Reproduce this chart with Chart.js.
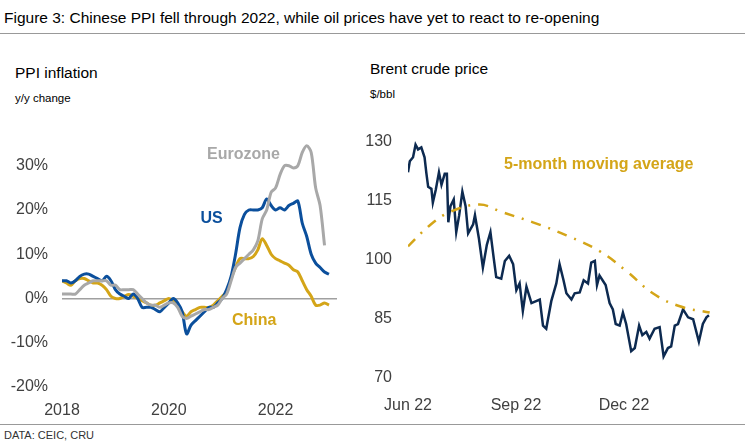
<!DOCTYPE html>
<html><head><meta charset="utf-8">
<script src="https://cdn.jsdelivr.net/npm/chart.js@4"></script>
<style>
body{margin:0;width:745px;height:445px;background:#fff;font-family:"Liberation Sans",Arial,sans-serif;position:relative;overflow:hidden}
.t{position:absolute;color:#000;white-space:nowrap}
canvas{position:absolute}
</style></head><body>
<div class="t" style="left:4px;top:9px;font-size:15.5px">Figure 3: Chinese PPI fell through 2022, while oil prices have yet to react to re-opening</div>
<div style="position:absolute;left:0;top:33px;width:745px;height:1px;background:#999"></div>
<div class="t" style="left:15px;top:64px;font-size:15.5px">PPI inflation</div>
<div class="t" style="left:15px;top:92px;font-size:11.5px">y/y change</div>
<div class="t" style="left:370px;top:60px;font-size:15.5px">Brent crude price</div>
<div class="t" style="left:370px;top:88px;font-size:11.5px">$/bbl</div>
<div style="position:absolute;left:0;top:424px;width:745px;height:1px;background:#999"></div>
<div class="t" style="left:4px;top:429px;font-size:11px;color:#333">DATA: CEIC, CRU</div>
<div style="position:absolute;left:0;top:120px;width:345px;height:300px"><canvas id="c1"></canvas></div>
<div style="position:absolute;left:360px;top:120px;width:385px;height:300px"><canvas id="c2"></canvas></div>
<script>
// Left chart: monthly y/y PPI, Jan 2018 onwards
const ppiStartYear = 2018;
const usPPI = [4,4,3.5,4,5,5.5,5.5,5,4.5,4,5,4, 2,1,0.5,0,1,0,-2,-2,-2,-2.5,-3,-2, -1,0,-1,-3,-8,-6,-5,-4,-3,-2,-2,-1, 0,2,5,10,16,19,20,20,20,20.5,22.5,21, 20,20.5,20,21,21.5,22,17,14,10,8,7,6, 5.5];
const euPPI = [1,1,1,1,2,3,3.5,4,4,4,4,3, 3,2,2,2,2,1,0,-1,-1.5,-1.5,-2,-1.5, -1,-1,-2,-4,-4.5,-4,-3.5,-3,-2.5,-2.5,-2,-1.5, 0,1,4,7,8,9,10,11,13,18,20,24, 25,28,30,30,29.5,30,33,34.5,33,25,21,12];
const cnPPI = [4,3.5,3,4,4.5,4.5,4,3.5,3.5,3,2,0.5, 0,0,0.5,0.9,0.5,0,-0.5,-1,-1.5,-1.5,-1,-0.5, 0,-0.5,-1.5,-3,-4,-3,-2.5,-2,-2,-2,-1.5,-0.5, 0.5,1.5,4.5,7,9,9,9,9.5,11,13.5,12,10, 9,8.5,8,7.5,6.5,6,4,2,0.5,-1.5,-1.5,-1, -1.5];
const ppiYTicks = [-20,-10,0,10,20,30];
const ppiXTicks = [2018,2020,2022];
// Right chart: Brent, x = months since 1 Jun 2022
const brentMonths = [0,.05,.14,.21,.28,.37,.46,.51,.56,.65,.69,.77,.86,.93,1.02,1.08,1.12,1.18,1.27,1.34,1.42,1.51,1.6,1.67,1.81,1.86,1.97,2.08,2.19,2.29,2.38,2.45,2.59,2.69,2.81,2.92,3.01,3.1,3.19,3.29,3.43,3.66,3.75,3.84,3.98,4.12,4.21,4.32,4.4,4.54,4.63,4.77,4.88,5,5.09,5.19,5.25,5.32,5.49,5.6,5.69,5.77,5.88,5.97,6.06,6.2,6.3,6.42,6.51,6.62,6.71,6.85,6.99,7.1,7.22,7.31,7.41,7.5,7.64,7.78,7.92,8.08,8.19,8.29,8.36];
const brentPrice = [122.2,125,126,129.2,128,128.5,126,122,118.5,118,114.5,117.7,122.2,119,121.8,121.8,109.5,113.6,115.3,107,111.2,117.3,113.6,106.7,109,111.3,105.4,98,103.8,107,100.5,95.6,95.2,99.7,101,98.9,92.3,94,87,93.2,89,89.9,83.3,82.5,89.5,94,98.9,94.8,91.5,89.9,91.5,91.7,94.8,94,99.3,99.7,93.6,96,93.6,89,87.4,83.7,83.3,86.6,83.7,76.8,77.6,83.3,80.9,81.7,80,82.5,82.9,75.5,77.6,78,83.3,83.7,87.4,85.4,84.9,79.2,83.7,85.4,85.9];
const maMonths = [0,.6,1.16,1.99,2.64,3.47,4.4,5.32,6.06,6.8,7.55,8.38];
const maPrice = [103.4,108.7,112.1,114,112,109.5,106.2,102.2,97.2,91.5,88.2,86.6];
const brentYTicks = [70,85,100,115,130];
const brentXTicks = [0,3,6];
const brentXLabels = ['Jun 22','Sep 22','Dec 22'];

const F = "'Liberation Sans', Arial, sans-serif";
const tickFont = {family:F,size:16};
const tickColor = '#404040';
const gold = '#D4A518', blue = '#0B4F9C', grey = '#A8A8A8', navy = '#0D2A50';

const labelPlugin = {
  id:'labels',
  afterDatasetsDraw(chart, args, opts){
    const ctx = chart.ctx, xs = chart.scales.x, ys = chart.scales.y;
    (opts.items||[]).forEach(it=>{
      ctx.save();
      ctx.font = 'bold 16px '+F;
      ctx.fillStyle = it.color; ctx.textAlign='center'; ctx.textBaseline='middle';
      ctx.fillText(it.text, xs.getPixelForValue(it.x), ys.getPixelForValue(it.y));
      ctx.restore();
    });
  }
};
const ser = (xs, ys) => ys.map((v,i)=>({x:xs[i], y:v}));
const ppiX = arr => arr.map((v,i)=>({x:ppiStartYear + i/12, y:v}));

new Chart(document.getElementById('c1'), {
  type:'line',
  data:{datasets:[
    {data:ppiX(euPPI), borderColor:grey, borderWidth:3, pointRadius:0, tension:0.3},
    {data:ppiX(usPPI), borderColor:blue, borderWidth:3, pointRadius:0, tension:0.3},
    {data:ppiX(cnPPI), borderColor:gold, borderWidth:3, pointRadius:0, tension:0.3}
  ]},
  options:{
    responsive:true, maintainAspectRatio:false, animation:false,
    layout:{padding:{top:8,right:8,left:0,bottom:0}},
    plugins:{legend:{display:false},tooltip:{enabled:false},
      labels:{items:[{text:'Eurozone',x:2021.4,y:32.5,color:grey},{text:'US',x:2020.8,y:18,color:blue},{text:'China',x:2021.6,y:-5,color:gold}]}},
    scales:{
      x:{type:'linear',min:2018,max:2023.15,
        afterBuildTicks:s=>{s.ticks=ppiXTicks.map(v=>({value:v}));},
        afterFit:s=>{s.height=33;},
        grid:{display:false},border:{display:false},
        ticks:{font:tickFont,color:tickColor,padding:6,maxRotation:0,callback:v=>String(v)}},
      y:{min:-20,max:35,
        afterBuildTicks:s=>{s.ticks=ppiYTicks.map(v=>({value:v}));},
        afterFit:s=>{s.width=62;},
        border:{display:false},
        grid:{drawTicks:false,lineWidth:c=>c.tick&&c.tick.value===0?1.5:0,color:'#A0A0A0'},
        ticks:{font:tickFont,color:tickColor,padding:14,callback:v=>v+'%'}}
    }
  },
  plugins:[labelPlugin]
});

new Chart(document.getElementById('c2'), {
  type:'line',
  data:{datasets:[
    {data:ser(maMonths,maPrice), borderColor:gold, borderWidth:2.5, pointRadius:0, tension:0.4, borderDash:[10,8,2,8]},
    {data:ser(brentMonths,brentPrice), borderColor:navy, borderWidth:2.5, pointRadius:0, tension:0}
  ]},
  options:{
    responsive:true, maintainAspectRatio:false, animation:false,
    layout:{padding:{top:1,right:31,left:0,bottom:0}},
    plugins:{legend:{display:false},tooltip:{enabled:false},
      labels:{items:[{text:'5-month moving average',x:5.3,y:124.2,color:gold}]}},
    scales:{
      x:{type:'linear',min:0,max:8.5,
        afterBuildTicks:s=>{s.ticks=brentXTicks.map(v=>({value:v}));},
        afterFit:s=>{s.height=42;},
        grid:{display:false},border:{display:false},
        ticks:{font:tickFont,color:tickColor,padding:10,maxRotation:0,callback:v=>brentXLabels[brentXTicks.indexOf(v)]}},
      y:{min:70,max:131,
        afterBuildTicks:s=>{s.ticks=brentYTicks.map(v=>({value:v}));},
        afterFit:s=>{s.width=48;},
        border:{display:false},grid:{display:false},
        ticks:{font:tickFont,color:tickColor,padding:8}}
    }
  },
  plugins:[labelPlugin]
});
</script>
</body></html>
